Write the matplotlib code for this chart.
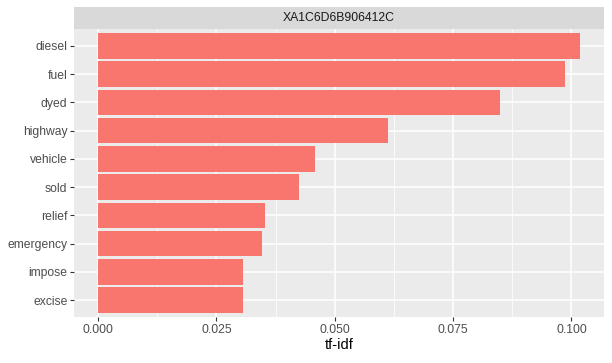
import matplotlib
matplotlib.use("Agg")
import matplotlib.pyplot as plt

plt.rcParams["font.family"] = ["Liberation Sans", "DejaVu Sans"]

terms = ["diesel", "fuel", "dyed", "highway", "vehicle", "sold", "relief",
         "emergency", "impose", "excise"]
tfidf = [0.1018, 0.0986, 0.0850, 0.0612, 0.0458, 0.0424, 0.0353, 0.0346,
         0.0306, 0.0306]
facet_label = "XA1C6D6B906412C"
x_ticks = [0.000, 0.025, 0.050, 0.075, 0.100]
x_tick_labels = ["0.000", "0.025", "0.050", "0.075", "0.100"]
x_minor = [0.0125, 0.0375, 0.0625, 0.0875]

W, H = 612, 363
fig = plt.figure(figsize=(W / 100, H / 100), dpi=100)
fig.patch.set_facecolor("white")

L, R, T, B = 74, 604, 29, 317
ax = fig.add_axes([L / W, 1 - B / H, (R - L) / W, (B - T) / H])
ax.set_facecolor("#EBEBEB")

n = len(terms)
ypos = [n - i for i in range(n)]
ax.barh(ypos, tfidf, height=0.9, color="#F8766D", zorder=3)

xmax = max(tfidf)
pad = 0.05 * xmax
ax.set_xlim(-pad, xmax + pad)
ax.set_ylim(0.4, n + 0.6)

ax.set_xticks(x_ticks)
ax.set_xticklabels(x_tick_labels)
ax.set_xticks(x_minor, minor=True)
ax.set_yticks(ypos)
ax.set_yticklabels(terms)

for x in x_ticks:
    ax.axvline(x, color="white", lw=1.1, zorder=1)
for x in x_minor:
    ax.axvline(x, color="white", lw=0.55, zorder=1)
for y in ypos:
    ax.axhline(y, color="white", lw=1.1, zorder=1)

for s in ax.spines.values():
    s.set_visible(False)

ax.tick_params(axis="both", which="major", length=2.7, width=0.8,
               color="#333333", labelcolor="#4D4D4D", labelsize=8.7, pad=2)
ax.tick_params(axis="x", which="minor", length=0)

ax.set_xlabel("tf-idf", fontsize=10.5, color="black", labelpad=2)

# facet strip
strip_top = 7
sax = fig.add_axes([L / W, 1 - T / H, (R - L) / W, (T - strip_top) / H])
sax.set_facecolor("#D9D9D9")
sax.set_xticks([])
sax.set_yticks([])
for s in sax.spines.values():
    s.set_visible(False)
sax.text(0.5, 0.5, facet_label, ha="center", va="center", fontsize=8.8,
         color="#1A1A1A", transform=sax.transAxes)

fig.savefig("out.png", dpi=100, facecolor="white")
